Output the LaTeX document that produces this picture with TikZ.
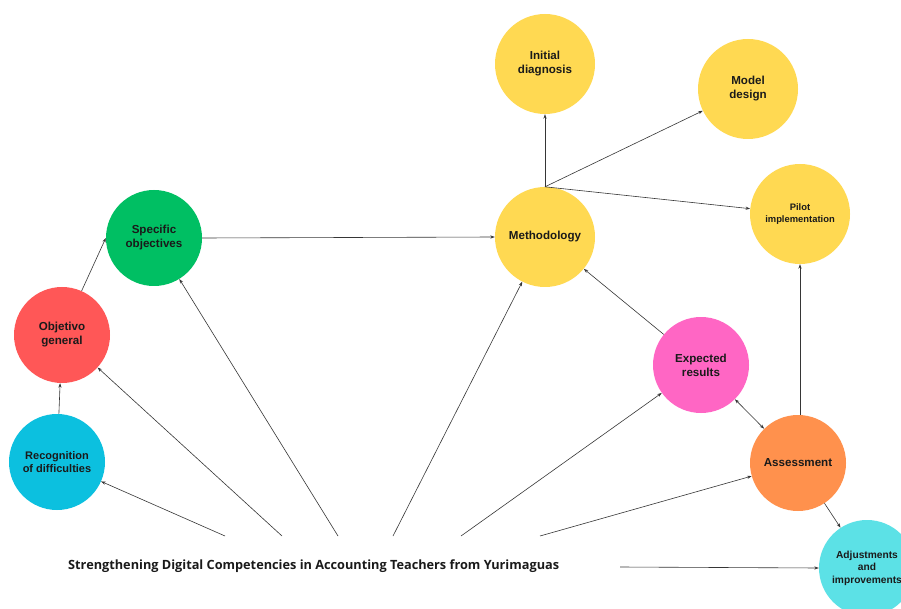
\documentclass[tikz,border=0pt]{standalone}
\usepackage{fontspec}
\setmainfont{Liberation Sans}
\newfontfamily\titlefont{Open Sans}
\usetikzlibrary{arrows.meta}

\definecolor{cyellow}{HTML}{FFD952}
\definecolor{cgreen}{HTML}{00BF63}
\definecolor{cred}{HTML}{FF5757}
\definecolor{cblue}{HTML}{0CC0DF}
\definecolor{cpink}{HTML}{FF66C4}
\definecolor{corange}{HTML}{FF914D}
\definecolor{caqua}{HTML}{5CE1E6}
\definecolor{ink}{HTML}{1A1A1A}
\definecolor{wire}{HTML}{363636}

\tikzset{
  bubble/.style={circle, inner sep=0pt, align=center, text=ink,
    font=\bfseries\fontsize{11.6}{14}\selectfont},
  bigbubble/.style={bubble, minimum size=100pt},
  smallbubble/.style={bubble, minimum size=96pt},
  link/.style={draw=wire, line width=0.6pt,
    -{Stealth[length=4.5pt,width=3.2pt]}},
  twolink/.style={link, {Stealth[length=4.5pt,width=3.2pt]}-{Stealth[length=4.5pt,width=3.2pt]}},
  plain/.style={draw=wire, line width=0.6pt}
}

\begin{document}
\begin{tikzpicture}[x=1pt, y=-1pt]
  \useasboundingbox (0,0) rectangle (901,609);
  \clip (0,0) rectangle (901,609);
  \fill[white] (0,0) rectangle (901,609);

  % methodology branch
  \node[bigbubble, fill=cyellow] (diag) at (545,64) {Initial\\diagnosis};
  \node[bigbubble, fill=cyellow] (model) at (748,89) {Model\\design};
  \node[bigbubble, fill=cyellow, font=\bfseries\fontsize{9.4}{11.7}\selectfont]
    (pilot) at (800,214) {Pilot\\implementation};
  \node[bigbubble, fill=cyellow] (meth) at (545,237) {Methodology};

  % objectives branch
  \node[smallbubble, fill=cgreen] (spec) at (154,238) {Specific\\objectives};
  \node[smallbubble, fill=cred] (obj) at (62,335) {Objetivo\\general};
  \node[smallbubble, fill=cblue, font=\bfseries\fontsize{11}{13.3}\selectfont]
    (rec) at (57,462) {Recognition\\of difficulties};

  % evaluation branch
  \node[smallbubble, fill=cpink] (exp) at (701,365) {Expected\\results};
  \node[smallbubble, fill=corange] (ass) at (798,463) {Assessment};
  \node[smallbubble, fill=caqua, font=\bfseries\fontsize{10.2}{12.5}\selectfont]
    (adj) at (867,568) {Adjustments\\and\\improvements};

  % title
  \node[anchor=west, inner sep=0pt, text=ink] (title) at (68,566)
    {\resizebox{491pt}{!}{\titlefont\bfseries Strengthening Digital Competencies in Accounting Teachers from Yurimaguas}};

  % free ends of the rays leaving the title
  \coordinate (t1) at (225,536);
  \coordinate (t2) at (282,536);
  \coordinate (t3) at (338,536);
  \coordinate (t4) at (393,536);
  \coordinate (t5) at (461,536);
  \coordinate (t6) at (540,536);
  \coordinate (t7) at (620,567);

  \draw[link] (t1) -- (rec);
  \draw[link] (t2) -- (obj);
  \draw[link] (t3) -- (spec);
  \draw[link] (t4) -- (meth);
  \draw[link] (t5) -- (exp);
  \draw[link] (t6) -- (ass);
  \draw[link] (t7) -- (adj.west);

  % objective chain
  \draw[link] (rec) -- (obj);
  \draw[link] (obj.66) -- (spec.west);
  \draw[link] (spec.east) -- (meth.west);

  % methodology fan
  \draw[link] (meth.north) -- (diag.south);
  \draw[link] (meth.north) -- (model);
  \draw[link] (meth.north) -- (pilot);

  % evaluation loop
  \draw[link] (exp) -- (meth);
  \draw[twolink] (exp) -- (ass);
  \draw[link] (pilot.south |- ass.north) -- (pilot.south);
  \draw[link] (ass) -- (adj);
\end{tikzpicture}
\end{document}
